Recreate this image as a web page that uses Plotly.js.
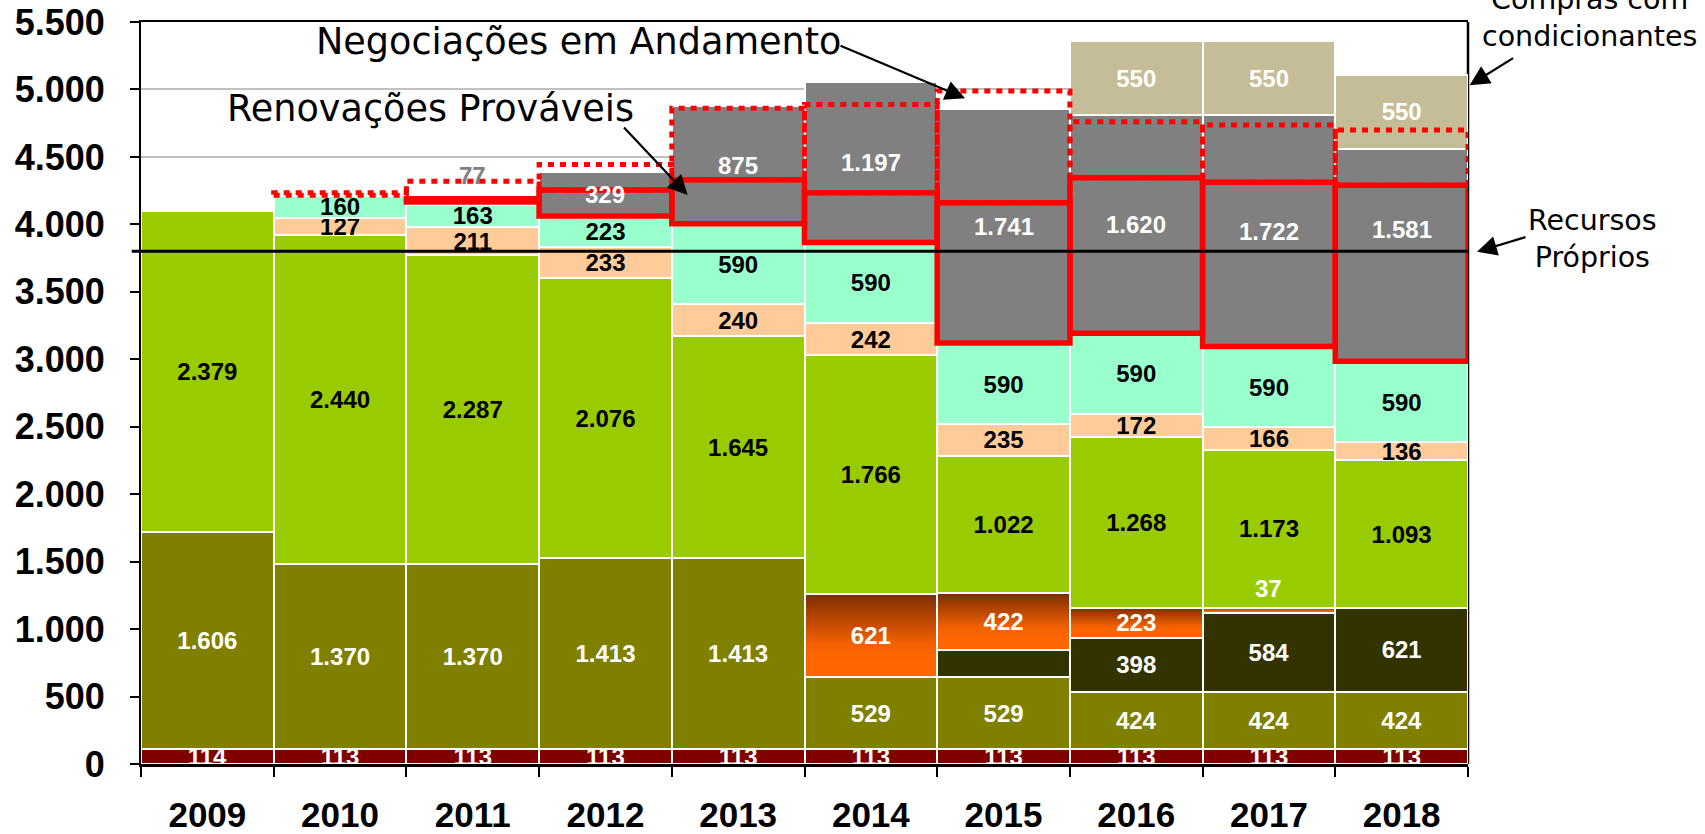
<!DOCTYPE html>
<html>
<head>
<meta charset="utf-8">
<script src="https://cdn.plot.ly/plotly-3.0.1.min.js"></script>
<style>
html,body{margin:0;padding:0;background:#ffffff;}
#chart{width:1705px;height:834px;}
</style>
</head>
<body>
<div id="chart"></div>
<script>
// ---- categorias ----
const anos = ['2009','2010','2011','2012','2013','2014','2015','2016','2017','2018'];

// ---- séries (empilhadas de baixo para cima) ----
const base113  = [114, 113, 113, 113, 113, 113, 113, 113, 113, 113];
const oliva    = [1606, 1370, 1370, 1413, 1413, 529, 529, 424, 424, 424];
const escuro   = [null, null, null, null, null, null, 200, 398, 584, 621];
const laranja  = [null, null, null, null, null, 621, 422, 223, 37, null];
const verde    = [2379, 2440, 2287, 2076, 1645, 1766, 1022, 1268, 1173, 1093];
const pessego  = [null, 127, 211, 233, 240, 242, 235, 172, 166, 136];
const agua     = [null, 160, 163, 223, 590, 590, 590, 590, 590, 590];
const cinza    = [null, null, null, 329, 875, 1197, 1741, 1620, 1722, 1581];
const bege     = [null, null, null, null, null, null, null, 550, 550, 550];

// rótulos que não aparecem dentro da barra / posição relativa do rótulo cinza
const escuroSemRotulo  = ['2015'];
const laranjaForaBarra = ['2017'];
const negocSemBarra    = [null, null, 77, null, null, null, null, null, null, null];
const posRotuloCinza   = [0.5, 0.5, 0.5, 0.5, 0.5, 0.5, 0.5, 0.5, 0.5, 0.625];

// ---- contornos (valores no eixo y) ----
const renovBase = [null, null, 4165, 4062, 4005, 3866, 3120, 3193, 3095, 2985];
const renovTopo = [null, null, 4190, 4255, 4330, 4234, 4160, 4345, 4313, 4289];
const negocBase = [null, 4215, 4190, 4255, 4330, 4234, 4160, 4345, 4313, 4289];
const negocTopo = [null, 4234, 4320, 4444, 4860, 4889, 4988, 4760, 4736, 4699];
const recursosProprios = 3800;

const FONT_NUM = 'Liberation Sans, Arial, sans-serif';
const FONT_TXT = 'DejaVu Sans, Verdana, sans-serif';

function fmt(v){ return v == null ? '' : String(v).replace(/\B(?=(\d{3})+(?!\d))/g, '.'); }

function barra(nome, valores, cor, corTexto, textos){
  return {
    type:'bar', name:nome, x:anos, y:valores,
    marker:{color:cor, line:{color:'#ffffff', width:2}},
    text: textos || valores.map(fmt),
    textposition:'inside', insidetextanchor:'middle', constraintext:'none', textangle:0,
    textfont:{family:FONT_NUM, size:24, color:corTexto, weight:'bold'},
    hoverinfo:'skip', cliponaxis:true
  };
}

const tLaranja = barra('laranja', laranja, '#ff6600', '#ffffff',
  laranja.map((v,i)=> laranjaForaBarra.includes(anos[i]) ? '' : fmt(v)));

const traces = [
  barra('base', base113, '#800000', '#ffffff'),
  barra('oliva', oliva, '#808000', '#ffffff'),
  barra('escuro', escuro, '#333300', '#ffffff',
        escuro.map((v,i)=> escuroSemRotulo.includes(anos[i]) ? '' : fmt(v))),
  tLaranja,
  barra('verde', verde, '#99cc00', '#000000'),
  barra('pessego', pessego, '#ffcc99', '#000000'),
  barra('agua', agua, '#99ffcc', '#000000'),
  barra('cinza', cinza, '#808080', '#ffffff', cinza.map(()=> '')),
  barra('bege', bege, '#c4bd97', '#ffffff')
];

// ---- shapes ----
const shapes = [];
anos.forEach((a,i)=>{
  if(negocTopo[i] != null){
    shapes.push({type:'rect', xref:'x', yref:'y', x0:i-0.5, x1:i+0.5, y0:negocBase[i], y1:negocTopo[i],
      line:{color:'#ff0000', width:5, dash:'6px,6px'}, fillcolor:'rgba(0,0,0,0)', layer:'above'});
  }
});
anos.forEach((a,i)=>{
  if(renovTopo[i] != null){
    shapes.push({type:'rect', xref:'x', yref:'y', x0:i-0.5, x1:i+0.5, y0:renovBase[i], y1:renovTopo[i],
      line:{color:'#ff0000', width:5.5}, fillcolor:'rgba(0,0,0,0)', layer:'above'});
  }
});
shapes.push({type:'line', xref:'paper', yref:'y', x0:-0.007, x1:1.0, y0:recursosProprios, y1:recursosProprios,
  line:{color:'#000000', width:3}, layer:'above'});
shapes.push({type:'line', xref:'paper', yref:'paper', x0:1, x1:1, y0:0, y1:1,
  line:{color:'#000000', width:2.5}, layer:'below'});

// ---- anotações ----
const annotations = [];
function texto(t, x, y, size){
  annotations.push({text:t, xref:'paper', yref:'paper', x:x, y:y, xanchor:'center', yanchor:'middle',
    showarrow:false, font:{family:FONT_TXT, size:size, color:'#000000'}});
}
function seta(x, y, ax, ay){
  annotations.push({text:'', xref:'paper', yref:'paper', x:x, y:y, ax:ax, ay:ay, showarrow:true,
    arrowhead:2, arrowsize:1.8, arrowwidth:2.2, arrowcolor:'#000000'});
}
texto('Negociações em Andamento', 0.3297, 0.9740, 36.6);
texto('Renovações Prováveis', 0.2179, 0.8838, 36.6);
texto('Compras com<br>condicionantes', 1.0917, 1.0050, 28.5);
texto('Recursos<br>Próprios', 1.0939, 0.7081, 28.5);
seta(0.6210, 0.8973, -126, -53);
seta(0.4119, 0.7667, -65, -69);
seta(1.0012, 0.9148, 45, -28);
seta(1.0068, 0.6904, 50, -15);

// rótulos calculados a partir das séries (ficam acima dos contornos)
anos.forEach((a,i)=>{
  const abaixoCinza = base113[i] + (oliva[i]||0) + (escuro[i]||0) + (laranja[i]||0) +
                      (verde[i]||0) + (pessego[i]||0) + (agua[i]||0);
  if(cinza[i] != null){
    annotations.push({text:fmt(cinza[i]), xref:'x', yref:'y', x:i, y:abaixoCinza + cinza[i]*posRotuloCinza[i],
      yanchor:'middle', showarrow:false, font:{family:FONT_NUM, size:24, color:'#ffffff', weight:'bold'}});
  }
  if(laranjaForaBarra.includes(a) && laranja[i] != null){
    const topo = base113[i] + (oliva[i]||0) + (escuro[i]||0) + laranja[i];
    annotations.push({text:fmt(laranja[i]), xref:'x', yref:'y', x:i, y:topo, yanchor:'bottom', yshift:4,
      showarrow:false, font:{family:FONT_NUM, size:24, color:'#ffffff', weight:'bold'}});
  }
  if(negocSemBarra[i] != null){
    annotations.push({text:fmt(negocSemBarra[i]), xref:'x', yref:'y', x:i, y:negocTopo[i], yanchor:'middle', yshift:6,
      showarrow:false, font:{family:FONT_NUM, size:24, color:'#808080', weight:'bold'}});
  }
});

const layout = {
  width:1705, height:834,
  margin:{l:141, r:237, t:22, b:70, pad:0},
  paper_bgcolor:'#ffffff', plot_bgcolor:'#ffffff',
  barmode:'stack', bargap:0,
  showlegend:false,
  separators:',.',
  font:{family:FONT_NUM, color:'#000000'},
  xaxis:{type:'category', categoryorder:'array', categoryarray:anos, range:[-0.5, anos.length-0.5], autorange:false,
    tickson:'boundaries', ticks:'outside', ticklen:10, tickwidth:2, tickcolor:'#000000',
    showline:true, linecolor:'#000000', linewidth:2.5, mirror:true, layer:'below traces', showgrid:false,
    tickfont:{family:FONT_NUM, size:35, weight:'bold', color:'#000000'}, ticklabelstandoff:18, fixedrange:true},
  yaxis:{range:[0,5500], autorange:false, tick0:0, dtick:500, tickformat:',d', ticks:'outside', ticklen:9, tickwidth:2, tickcolor:'#000000',
    showline:true, linecolor:'#000000', linewidth:2, layer:'below traces', showgrid:true, gridcolor:'#c0c0c0', gridwidth:2,
    zeroline:false, tickfont:{family:FONT_NUM, size:36, weight:'bold', color:'#000000'}, ticklabelstandoff:18, fixedrange:true},
  shapes:shapes,
  annotations:annotations
};

const gd = document.getElementById('chart');
Plotly.newPlot(gd, traces, layout, {staticPlot:true, displayModeBar:false}).then(()=>{
  const ns = 'http://www.w3.org/2000/svg';
  const svg = gd.querySelector('svg.main-svg');
  const defs = document.createElementNS(ns, 'defs');
  const lg = document.createElementNS(ns, 'linearGradient');
  lg.setAttribute('id', 'gradLaranja');
  lg.setAttribute('x1', '0'); lg.setAttribute('y1', '0');
  lg.setAttribute('x2', '0'); lg.setAttribute('y2', '1');
  [['0%', '#7a2e00'], ['30%', '#b84600'], ['60%', '#f26100'], ['80%', '#ff6600'], ['100%', '#ff6600']].forEach(s=>{
    const st = document.createElementNS(ns, 'stop');
    st.setAttribute('offset', s[0]); st.setAttribute('stop-color', s[1]);
    lg.appendChild(st);
  });
  defs.appendChild(lg);
  svg.insertBefore(defs, svg.firstChild);
  const grupos = gd.querySelectorAll('.barlayer .trace.bars');
  const idx = traces.indexOf(tLaranja);
  if(grupos[idx]){
    grupos[idx].querySelectorAll('.point path').forEach(p=>{ p.style.fill = 'url(#gradLaranja)'; });
  }
});
</script>
</body>
</html>
